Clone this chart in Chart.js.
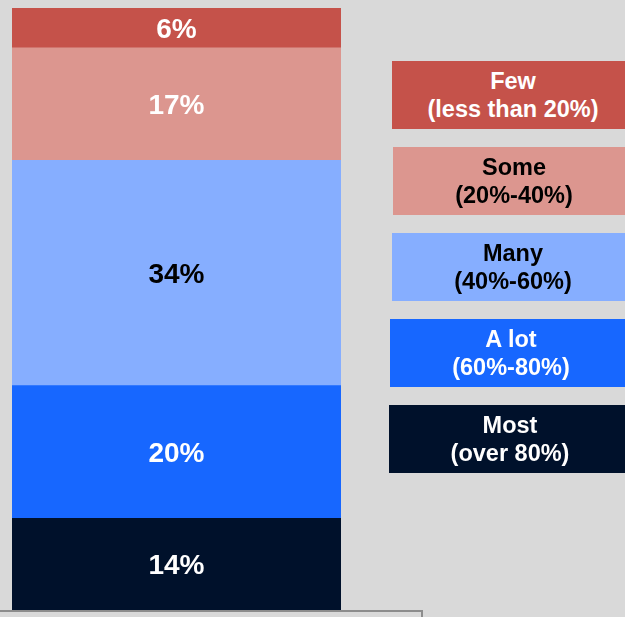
<!DOCTYPE html>
<html>
<head>
<meta charset="utf-8">
<script src="https://cdn.jsdelivr.net/npm/chart.js@4/dist/chart.umd.min.js"></script>
<style>
  html, body { margin: 0; padding: 0; background: #D9D9D9; width: 625px; height: 617px; overflow: hidden; }
  #wrap { position: relative; width: 625px; height: 617px; }
  canvas { position: absolute; left: 0; top: 0; }
  .lg { position: absolute; width: 242px; height: 68px; display: flex; flex-direction: column; justify-content: center; align-items: center;
        font-family: "Liberation Sans", Arial, sans-serif; font-weight: bold; font-size: 23.5px; line-height: 28px; text-align: center; }
  #frame { position: absolute; left: -2px; top: 610px; width: 425px; height: 30px; border: 2px solid #8c8c8c; box-sizing: border-box; }
</style>
</head>
<body>
<div id="wrap">
  <canvas id="c" width="625" height="617"></canvas>
  <div id="legend"></div>
  <div id="frame"></div>
</div>
<script>
// Data (bottom to top)
const categories = ["Share"];
const seriesNames = ["Most", "A lot", "Many", "Some", "Few"];
const seriesRanges = ["(over 80%)", "(60%-80%)", "(40%-60%)", "(20%-40%)", "(less than 20%)"];
const seriesValues = [14, 20, 34, 17, 6];
const valueLabels = ["14%", "20%", "34%", "17%", "6%"];

const colors = ["#00112B", "#1767FF", "#86AEFF", "#DC968F", "#C5524A"];
const textColors = ["#FFFFFF", "#FFFFFF", "#000000", "#000000", "#FFFFFF"];
const barLabelColors = ["#FFFFFF", "#FFFFFF", "#000000", "#FFFFFF", "#FFFFFF"];

const total = seriesValues.reduce((a, b) => a + b, 0);

const labelPlugin = {
  id: "segLabels",
  afterDatasetsDraw(chart) {
    const ctx = chart.ctx;
    ctx.save();
    ctx.font = "bold 28px 'Liberation Sans', Arial, sans-serif";
    ctx.textAlign = "center";
    ctx.textBaseline = "middle";
    chart.data.datasets.forEach((ds, i) => {
      const el = chart.getDatasetMeta(i).data[0];
      const cy = (el.y + el.base) / 2;
      ctx.fillStyle = barLabelColors[i];
      ctx.fillText(valueLabels[i], el.x, cy + 2);
    });
    ctx.restore();
  }
};

new Chart(document.getElementById("c"), {
  type: "bar",
  data: {
    labels: categories,
    datasets: seriesNames.map((n, i) => ({
      label: n,
      data: [seriesValues[i]],
      backgroundColor: colors[i],
      borderWidth: 0,
      barPercentage: 1,
      categoryPercentage: 1
    }))
  },
  options: {
    responsive: false,
    animation: false,
    layout: { padding: { left: 12, right: 284, top: 8, bottom: 6 } },
    plugins: { legend: { display: false }, tooltip: { enabled: false } },
    scales: {
      x: { stacked: true, display: false },
      y: { stacked: true, display: false, min: 0, max: total }
    }
  },
  plugins: [labelPlugin]
});

// Legend boxes (top to bottom: Few ... Most)
const legendTops = [61, 147, 233, 319, 405];
const legendLefts = [392, 393, 392, 390, 389];
const legend = document.getElementById("legend");
for (let k = 0; k < seriesNames.length; k++) {
  const i = seriesNames.length - 1 - k;
  const d = document.createElement("div");
  d.className = "lg";
  d.style.left = legendLefts[k] + "px";
  d.style.top = legendTops[k] + "px";
  d.style.background = colors[i];
  d.style.color = textColors[i];
  d.innerHTML = "<div>" + seriesNames[i] + "</div><div>" + seriesRanges[i] + "</div>";
  legend.appendChild(d);
}
</script>
</body>
</html>
